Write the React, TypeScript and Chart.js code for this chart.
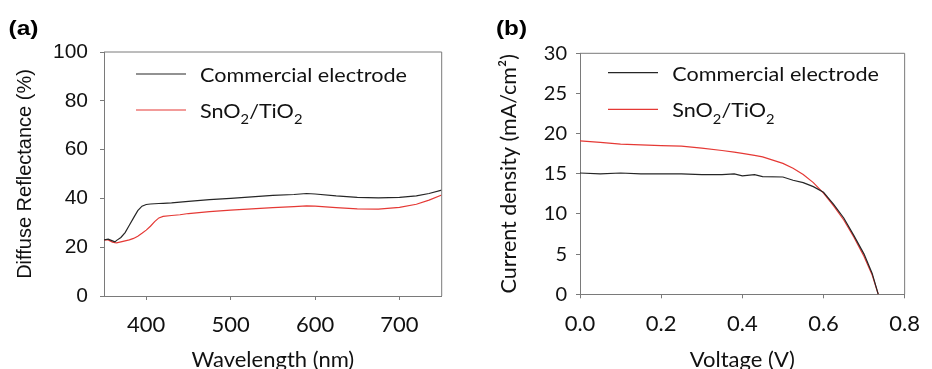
import React, { useEffect, useRef } from "react";
import { Chart, registerables } from "chart.js";

Chart.register(...registerables);

// ---------- Panel (a): diffuse reflectance ----------
const wavelengthNm = [350, 355, 360, 363, 365, 370, 375, 380, 385, 390, 395, 400, 405, 410, 415, 420, 430, 440, 450, 475, 500, 525, 550, 575, 590, 600, 625, 650, 675, 700, 720, 735, 750];
const reflCommercial = [23, 23.3, 22.6, 22.2, 22.8, 24, 26, 29, 32, 35, 36.8, 37.5, 37.7, 37.8, 37.9, 38, 38.2, 38.5, 38.8, 39.5, 40, 40.6, 41.2, 41.6, 42, 41.8, 41, 40.4, 40.2, 40.4, 41, 42, 43.4];
const reflSnO2 = [23, 23, 22.1, 21.9, 21.8, 22.2, 22.6, 23, 23.6, 24.5, 25.7, 27, 28.6, 30.5, 32, 32.6, 33, 33.3, 33.8, 34.6, 35.2, 35.7, 36.2, 36.6, 36.9, 36.8, 36.2, 35.7, 35.6, 36.3, 37.6, 39.3, 41.4];
const reflYTicks = [0, 20, 40, 60, 80, 100];
const wavelengthTicks = [400, 500, 600, 700];

// ---------- Panel (b): J–V curves ----------
const voltageV = [0, 0.05, 0.1, 0.15, 0.2, 0.25, 0.3, 0.35, 0.38, 0.4, 0.43, 0.45, 0.5, 0.525, 0.55, 0.575, 0.6, 0.625, 0.65, 0.675, 0.7, 0.72, 0.735];
const jCommercial = [15.1, 15.0, 15.1, 15.0, 15.0, 15.0, 14.9, 14.9, 15.0, 14.75, 14.9, 14.65, 14.6, 14.2, 13.9, 13.4, 12.7, 11.2, 9.5, 7.3, 5.0, 2.6, 0];
const jSnO2 = [19.1, 18.9, 18.7, 18.6, 18.5, 18.45, 18.2, 17.9, 17.7, 17.55, 17.3, 17.1, 16.3, 15.7, 14.9, 13.9, 12.6, 11.0, 9.25, 7.1, 4.7, 2.4, 0];
const jYTicks = [0, 5, 10, 15, 20, 25, 30];
const voltageTicks = [0, 0.2, 0.4, 0.6, 0.8];

const seriesLabels = ["Commercial electrode", "SnO₂/TiO₂"];
const seriesColors = ["#262626", "#e53935"];

const W = 466;
const H = 369;
const AXIS = "#7a7a7a";
const TEXT = "#111111";

const SUB: Record<string, string> = { "₀": "0", "₁": "1", "₂": "2", "₃": "3", "₄": "4", "₅": "5", "₆": "6", "₇": "7", "₈": "8", "₉": "9" };

type Run = { sub: boolean; s: string };

function toRuns(text: string): Run[] {
  const runs: Run[] = [];
  for (const ch of text) {
    const sub = ch in SUB;
    const c = sub ? SUB[ch] : ch;
    const last = runs[runs.length - 1];
    if (last && last.sub === sub) last.s += c;
    else runs.push({ sub, s: c });
  }
  return runs;
}

function richWidth(ctx: CanvasRenderingContext2D, text: string, size: number, family: string) {
  let w = 0;
  for (const r of toRuns(text)) {
    ctx.font = `${r.sub ? size * 0.68 : size}px ${family}`;
    w += ctx.measureText(r.s).width;
  }
  return w;
}

function drawRich(ctx: CanvasRenderingContext2D, text: string, x: number, y: number, size: number, family: string, sx: number) {
  ctx.save();
  ctx.translate(x, y);
  ctx.scale(sx, 1);
  let cx = 0;
  for (const r of toRuns(text)) {
    const fs = r.sub ? size * 0.68 : size;
    ctx.font = `${fs}px ${family}`;
    ctx.fillText(r.s, cx, r.sub ? size * 0.32 : 0);
    cx += ctx.measureText(r.s).width;
  }
  ctx.restore();
}

const overlayPlugin = {
  id: "overlay",
  afterDraw(chart: any, _args: any, opts: any) {
    const { ctx, chartArea: ca } = chart;
    ctx.save();
    // frame (top + right)
    ctx.strokeStyle = AXIS;
    ctx.lineWidth = 1;
    ctx.beginPath();
    ctx.moveTo(ca.left, ca.top);
    ctx.lineTo(ca.right, ca.top);
    ctx.lineTo(ca.right, ca.bottom);
    ctx.stroke();
    // legend
    ctx.fillStyle = TEXT;
    ctx.textBaseline = "alphabetic";
    ctx.textAlign = "left";
    const firstW = richWidth(ctx, chart.data.datasets[0].label, opts.fontSize, opts.fontFamily);
    const sx = opts.firstLabelWidth / firstW;
    chart.data.datasets.forEach((ds: any, i: number) => {
      const y = ca.top + opts.legendY0 + i * opts.legendDy;
      ctx.strokeStyle = ds.borderColor;
      ctx.lineWidth = 1.2;
      ctx.beginPath();
      ctx.moveTo(ca.left + opts.lineX0, y);
      ctx.lineTo(ca.left + opts.lineX1, y);
      ctx.stroke();
      drawRich(ctx, ds.label, ca.left + opts.textX, y + opts.textDy, opts.fontSize, opts.fontFamily, sx);
    });
    // panel tag
    ctx.fillStyle = "#000";
    ctx.font = `bold ${opts.tagSize}px ${opts.tagFamily}`;
    const tw = ctx.measureText(opts.tag).width;
    ctx.save();
    ctx.translate(opts.tagX, opts.tagY);
    ctx.scale(opts.tagWidth / tw, 1);
    ctx.fillText(opts.tag, 0, 0);
    ctx.restore();
    ctx.restore();
  },
};

function makeConfig(p: any): any {
  return {
    type: "line",
    data: {
      datasets: p.series.map((vals: number[], i: number) => ({
        label: seriesLabels[i],
        data: p.xs.map((x: number, k: number) => ({ x, y: vals[k] })),
        borderColor: seriesColors[i],
        backgroundColor: seriesColors[i],
        borderWidth: 1.2,
        pointRadius: 0,
        tension: 0,
        fill: false,
      })),
    },
    plugins: [overlayPlugin],
    options: {
      responsive: false,
      animation: false,
      events: [],
      layout: { padding: { top: p.top, right: p.right, left: 0, bottom: 0 } },
      plugins: {
        legend: { display: false },
        tooltip: { enabled: false },
        overlay: p.overlay,
      },
      scales: {
        x: {
          type: "linear",
          min: p.xMin,
          max: p.xMax,
          afterBuildTicks: (s: any) => {
            s.ticks = p.xTicks.map((v: number) => ({ value: v }));
          },
          afterFit: (s: any) => {
            s.height = p.xAxisHeight;
          },
          grid: { drawOnChartArea: false, drawTicks: true, tickLength: 4, color: AXIS },
          border: { display: true, color: AXIS, width: 1 },
          ticks: {
            autoSkip: false,
            maxRotation: 0,
            padding: p.xTickPad,
            color: TEXT,
            font: { family: "Lato", size: 22 },
            callback: p.xFmt,
          },
          title: {
            display: true,
            text: p.xTitle,
            color: TEXT,
            font: { family: "Lato", size: 22, lineHeight: 0.85 },
            padding: { top: 0, bottom: 0 },
          },
        },
        y: {
          type: "linear",
          min: p.yMin,
          max: p.yMax,
          afterBuildTicks: (s: any) => {
            s.ticks = p.yTicks.map((v: number) => ({ value: v }));
          },
          afterFit: (s: any) => {
            s.width = p.yAxisWidth;
          },
          grid: { drawOnChartArea: false, drawTicks: true, tickLength: 4, color: AXIS },
          border: { display: true, color: AXIS, width: 1 },
          ticks: {
            autoSkip: false,
            padding: p.yTickPad,
            color: TEXT,
            font: { family: p.yFont, size: p.yTickSize },
          },
          title: {
            display: true,
            text: p.yTitle,
            color: TEXT,
            font: { family: p.yFont, size: p.yTitleSize },
            padding: { top: p.yTitlePad, bottom: 0 },
          },
        },
      },
    },
  };
}

const configA = () =>
  makeConfig({
    xs: wavelengthNm,
    series: [reflCommercial, reflSnO2],
    xMin: 350,
    xMax: 750,
    yMin: 0,
    yMax: 100,
    xTicks: wavelengthTicks,
    yTicks: reflYTicks,
    xFmt: (v: any) => String(v),
    top: 52,
    right: 24.3,
    xAxisHeight: 73,
    yAxisWidth: 104,
    xTickPad: 12,
    yTickPad: 12,
    yFont: "'Liberation Sans', Arial, sans-serif",
    yTickSize: 21,
    yTitleSize: 20,
    yTitlePad: 13,
    xTitle: "Wavelength (nm)",
    yTitle: "Diffuse Reflectance (%)",
    overlay: {
      legendY0: 22,
      legendDy: 36,
      lineX0: 32,
      lineX1: 82,
      textX: 96,
      textDy: 8,
      fontSize: 20,
      fontFamily: "Lato",
      firstLabelWidth: 207,
      tag: "(a)",
      tagX: 8.5,
      tagY: 35,
      tagSize: 20,
      tagWidth: 30,
      tagFamily: "'Liberation Sans', Arial, sans-serif",
    },
  });

const configB = () =>
  makeConfig({
    xs: voltageV,
    series: [jCommercial, jSnO2],
    xMin: 0,
    xMax: 0.8,
    yMin: 0,
    yMax: 30,
    xTicks: voltageTicks,
    yTicks: jYTicks,
    xFmt: (v: any) => Number(v).toFixed(1),
    top: 53.3,
    right: 15.3,
    xAxisHeight: 74.7,
    yAxisWidth: 114,
    xTickPad: 12,
    yTickPad: 9,
    yFont: "Lato",
    yTickSize: 20,
    yTitleSize: 21.5,
    yTitlePad: 30,
    xTitle: "Voltage (V)",
    yTitle: "Current density (mA/cm²)",
    overlay: {
      legendY0: 19.4,
      legendDy: 36.6,
      lineX0: 28,
      lineX1: 78,
      textX: 92.3,
      textDy: 8,
      fontSize: 20,
      fontFamily: "Lato",
      firstLabelWidth: 206.7,
      tag: "(b)",
      tagX: 30,
      tagY: 35,
      tagSize: 20,
      tagWidth: 31,
      tagFamily: "'Liberation Sans', Arial, sans-serif",
    },
  });

function Panel({ left, build }: { left: number; build: () => any }) {
  const ref = useRef<HTMLCanvasElement | null>(null);
  useEffect(() => {
    if (!ref.current) return;
    const chart = new Chart(ref.current, build());
    return () => chart.destroy();
  }, [build]);
  return (
    <canvas
      ref={ref}
      width={W}
      height={H}
      style={{ position: "absolute", left, top: 0, width: W, height: H }}
    />
  );
}

export default function App() {
  return (
    <div style={{ position: "fixed", left: 0, top: 0, width: 932, height: 369, background: "#fff", overflow: "hidden" }}>
      <Panel left={0} build={configA} />
      <Panel left={466} build={configB} />
    </div>
  );
}
